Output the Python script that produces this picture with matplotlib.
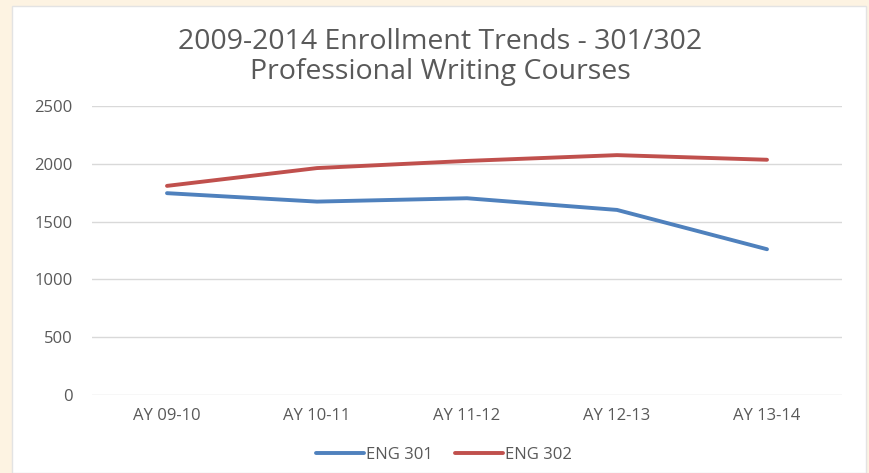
import matplotlib
matplotlib.use("Agg")
import matplotlib.pyplot as plt
from matplotlib.patches import Rectangle

categories = ["AY 09-10", "AY 10-11", "AY 11-12", "AY 12-13", "AY 13-14"]
eng301 = [1746, 1673, 1702, 1601, 1261]
eng302 = [1809, 1963, 2025, 2075, 2035]
yticks = [0, 500, 1000, 1500, 2000, 2500]

plt.rcParams['font.family'] = ['Open Sans', 'DejaVu Sans']

fig = plt.figure(figsize=(8.69, 4.73), dpi=100)
fig.patch.set_facecolor('#FDF3E2')
fig.add_artist(Rectangle((12/869, 0), (866-12)/869, 1 - 6/473,
                         transform=fig.transFigure, facecolor='white',
                         edgecolor='#E3E3E3', linewidth=1.0, zorder=0))

ax = fig.add_axes([92/869, 1-395/473, 750/869, (395-106)/473])
ax.set_facecolor('none')
x = list(range(len(categories)))
ax.plot(x, eng301, color='#4F81BD', lw=2.8, solid_capstyle='round', label='ENG 301')
ax.plot(x, eng302, color='#C0504D', lw=2.8, solid_capstyle='round', label='ENG 302')
ax.set_xlim(-0.5, len(categories) - 0.5)
ax.set_ylim(0, 2500)
ax.set_yticks(yticks)
ax.set_xticks(x)
ax.set_xticklabels(categories)
ax.tick_params(axis='both', length=0, labelsize=12, colors='#595959')
ax.tick_params(axis='y', pad=14)
ax.tick_params(axis='x', pad=9)
ax.grid(axis='y', color='#D9D9D9', lw=1)
ax.set_axisbelow(True)
for s in ax.spines.values():
    s.set_visible(False)

fig.text(440/869, 1-42/473, "2009-2014 Enrollment Trends - 301/302",
         ha='center', va='center', fontsize=20.5, color='#595959')
fig.text(440/869, 1-72/473, "Professional Writing Courses",
         ha='center', va='center', fontsize=20.5, color='#595959')

leg = fig.legend(loc='center', bbox_to_anchor=(444/869, 1-455/473), ncol=2,
                 frameon=False, fontsize=12, handlelength=2.9,
                 handletextpad=0.12, columnspacing=1.3)
for t in leg.get_texts():
    t.set_color('#595959')

fig.savefig("out.png", dpi=100, facecolor=fig.get_facecolor())
